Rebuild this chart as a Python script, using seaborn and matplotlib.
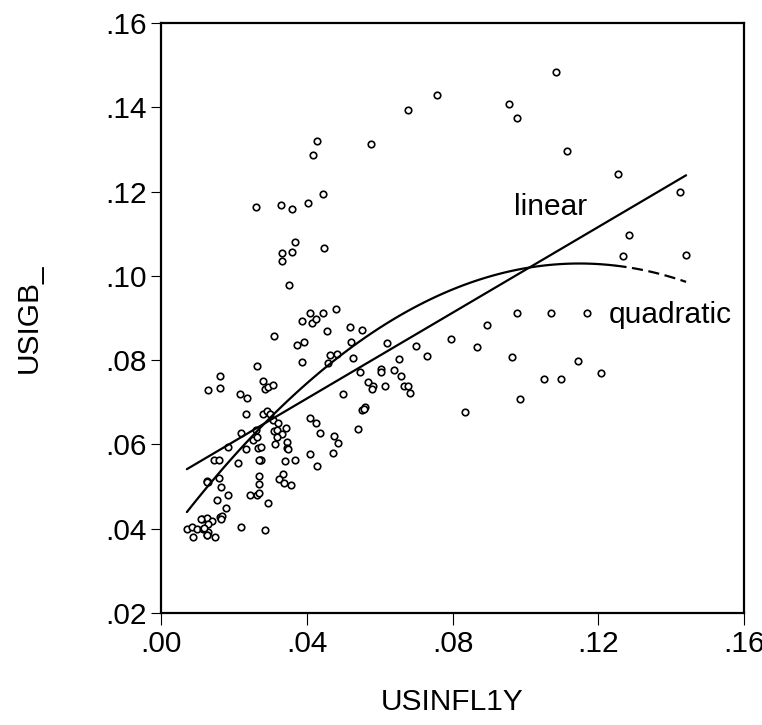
import numpy as np
import pandas as pd
import matplotlib
matplotlib.use("Agg")
import matplotlib.pyplot as plt
import seaborn as sns

# values (USINFL1Y vs USIGB_)
usinfl1y = [
    0.0261, 0.0329, 0.0360, 0.0403, 0.0445, 0.0416, 0.0429, 0.0576, 0.0677, 0.0368,
    0.0332, 0.0359, 0.0333, 0.0447, 0.0352, 0.0757, 0.1083, 0.0955, 0.0977, 0.1115,
    0.1253, 0.1423, 0.1285, 0.1267, 0.1441, 0.0978, 0.1069, 0.1170, 0.0895, 0.0795,
    0.0868, 0.0964, 0.1145, 0.1052, 0.1097, 0.1208, 0.0986, 0.0835, 0.0309, 0.0263,
    0.0409, 0.0445, 0.0480, 0.0388, 0.0415, 0.0426, 0.0455, 0.0392, 0.0374, 0.0387,
    0.0520, 0.0552, 0.0521, 0.0464, 0.0483, 0.0458, 0.0527, 0.0619, 0.0700, 0.0729,
    0.0653, 0.0547, 0.0604, 0.0604, 0.0640, 0.0659, 0.0569, 0.0582, 0.0578, 0.0615,
    0.0666, 0.0678, 0.0684, 0.0499, 0.0162, 0.0162, 0.0130, 0.0217, 0.0235, 0.0281,
    0.0286, 0.0293, 0.0307, 0.0408, 0.0426, 0.0435, 0.0475, 0.0486, 0.0540, 0.0551,
    0.0561, 0.0556, 0.0410, 0.0471, 0.0429, 0.0233, 0.0281, 0.0292, 0.0298, 0.0306,
    0.0322, 0.0343, 0.0220, 0.0261, 0.0309, 0.0318, 0.0332, 0.0318, 0.0252, 0.0263,
    0.0347, 0.0312, 0.0185, 0.0233, 0.0265, 0.0274, 0.0345, 0.0348, 0.0146, 0.0159,
    0.0210, 0.0272, 0.0275, 0.0341, 0.0368, 0.0126, 0.0128, 0.0159, 0.0165, 0.0269,
    0.0336, 0.0325, 0.0338, 0.0356, 0.0269, 0.0185, 0.0153, 0.0243, 0.0263, 0.0268,
    0.0293, 0.0179, 0.0113, 0.0126, 0.0139, 0.0162, 0.0167, 0.0071, 0.0084, 0.0098,
    0.0116, 0.0130, 0.0089, 0.0130, 0.0148, 0.0126, 0.0219, 0.0286,
    # overlapping observations (bold rings in the reference)
    0.0126, 0.0270, 0.0164, 0.0126, 0.0111, 0.0118,
]
usigb = [
    0.1164, 0.1169, 0.1158, 0.1174, 0.1195, 0.1286, 0.1320, 0.1312, 0.1393, 0.1081,
    0.1055, 0.1057, 0.1035, 0.1067, 0.0978, 0.1429, 0.1484, 0.1408, 0.1374, 0.1296,
    0.1242, 0.1199, 0.1096, 0.1046, 0.1049, 0.0912, 0.0912, 0.0912, 0.0883, 0.0850,
    0.0831, 0.0807, 0.0797, 0.0756, 0.0756, 0.0769, 0.0707, 0.0677, 0.0857, 0.0786,
    0.0912, 0.0913, 0.0921, 0.0892, 0.0889, 0.0897, 0.0868, 0.0843, 0.0835, 0.0796,
    0.0878, 0.0871, 0.0844, 0.0812, 0.0815, 0.0792, 0.0804, 0.0841, 0.0833, 0.0809,
    0.0802, 0.0773, 0.0779, 0.0772, 0.0777, 0.0762, 0.0748, 0.0738, 0.0731, 0.0738,
    0.0738, 0.0739, 0.0722, 0.0720, 0.0762, 0.0733, 0.0728, 0.0720, 0.0710, 0.0750,
    0.0732, 0.0737, 0.0740, 0.0662, 0.0651, 0.0628, 0.0621, 0.0604, 0.0636, 0.0681,
    0.0688, 0.0685, 0.0578, 0.0579, 0.0549, 0.0671, 0.0673, 0.0679, 0.0671, 0.0659,
    0.0651, 0.0639, 0.0627, 0.0635, 0.0632, 0.0635, 0.0624, 0.0617, 0.0610, 0.0617,
    0.0605, 0.0602, 0.0594, 0.0590, 0.0592, 0.0594, 0.0592, 0.0589, 0.0562, 0.0562,
    0.0557, 0.0564, 0.0562, 0.0560, 0.0564, 0.0513, 0.0510, 0.0521, 0.0500, 0.0526,
    0.0530, 0.0518, 0.0508, 0.0503, 0.0505, 0.0479, 0.0469, 0.0479, 0.0481, 0.0484,
    0.0461, 0.0450, 0.0424, 0.0426, 0.0419, 0.0427, 0.0431, 0.0400, 0.0405, 0.0400,
    0.0400, 0.0410, 0.0381, 0.0392, 0.0381, 0.0384, 0.0404, 0.0396,
    0.0511, 0.0563, 0.0424, 0.0386, 0.0424, 0.0401,
]
x_ticks = [0.00, 0.04, 0.08, 0.12, 0.16]
x_tick_labels = [".00", ".04", ".08", ".12", ".16"]
y_ticks = [0.02, 0.04, 0.06, 0.08, 0.10, 0.12, 0.14, 0.16]
y_tick_labels = [".02", ".04", ".06", ".08", ".10", ".12", ".14", ".16"]

df = pd.DataFrame({"USINFL1Y": usinfl1y, "USIGB_": usigb})

sns.set_style("ticks")
plt.rcParams["font.family"] = ["Liberation Sans", "DejaVu Sans"]
plt.rcParams["text.color"] = "black"
plt.rcParams["axes.labelcolor"] = "black"
fs = 21.5

fig = plt.figure(figsize=(7.62, 7.25), dpi=100)
ax = fig.add_axes([0.2113, 0.1545, 0.7651, 0.8138])

sns.scatterplot(data=df, x="USINFL1Y", y="USIGB_", ax=ax, marker="o", s=22,
                facecolor="white", edgecolor="black", linewidth=1.2, zorder=3)

# linear fit
sns.regplot(data=df, x="USINFL1Y", y="USIGB_", ax=ax, order=1, ci=None,
            scatter=False, color="black", line_kws={"lw": 1.6, "zorder": 4})
# quadratic fit, dashed near the end
sns.regplot(data=df, x="USINFL1Y", y="USIGB_", ax=ax, order=2, ci=None,
            scatter=False, color="black", line_kws={"lw": 1.6, "zorder": 4})
quad = ax.get_lines()[-1]
qx, qy = quad.get_data()
qx = np.asarray(qx)
qy = np.asarray(qy)
cut = 0.125
quad.set_data(qx[qx <= cut], qy[qx <= cut])
ax.plot(qx[qx >= cut - 0.001], qy[qx >= cut - 0.001], color="black", lw=1.6,
        linestyle=(0, (5, 2.5)), zorder=4)

ax.text(0.1068, 0.1164, "linear", fontsize=fs, ha="center", va="center")
ax.text(0.1398, 0.0906, "quadratic", fontsize=fs, ha="center", va="center")

ax.set_xlim(0.0, 0.16)
ax.set_ylim(0.02, 0.16)
ax.set_xticks(x_ticks)
ax.set_xticklabels(x_tick_labels)
ax.set_yticks(y_ticks)
ax.set_yticklabels(y_tick_labels)
ax.tick_params(axis="x", direction="out", length=8.5, width=0.8, pad=4,
               labelsize=fs, colors="black")
ax.tick_params(axis="y", direction="out", length=7, width=0.8, pad=3.5,
               labelsize=fs, colors="black")
for side in ["left", "right", "top", "bottom"]:
    ax.spines[side].set_visible(True)
    ax.spines[side].set_linewidth(1.6)
    ax.spines[side].set_color("black")

ax.set_xlabel("USINFL1Y", fontsize=fs, labelpad=21)
ax.set_ylabel("USIGB_", fontsize=fs, labelpad=45)

fig.savefig("out.png", dpi=100)
